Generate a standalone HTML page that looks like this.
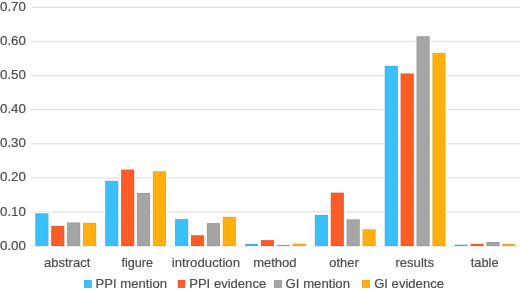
<!DOCTYPE html><html><head><meta charset="utf-8"><style>html,body{margin:0;padding:0;background:#fff;}svg{display:block;will-change:transform;}text{font-family:"Liberation Sans",sans-serif;stroke:#404040;stroke-width:0.15px;}</style></head><body>
<svg width="520" height="291" viewBox="0 0 520 291">
<defs><filter id="bl" x="0" y="0" width="100%" height="100%" filterUnits="userSpaceOnUse"><feConvolveMatrix order="3" kernelMatrix="0.00027 0.01580 0.00027 0.01580 0.93575 0.01580 0.00027 0.01580 0.00027" divisor="1" edgeMode="duplicate" preserveAlpha="false"/></filter></defs>
<g filter="url(#bl)">
<rect width="520" height="291" fill="#fff"/>
<rect x="31" y="6.75" width="489" height="1.3" fill="#E3E3E3"/>
<rect x="31" y="40.84" width="489" height="1.3" fill="#E3E3E3"/>
<rect x="31" y="74.92" width="489" height="1.3" fill="#E3E3E3"/>
<rect x="31" y="109.01" width="489" height="1.3" fill="#E3E3E3"/>
<rect x="31" y="143.09" width="489" height="1.3" fill="#E3E3E3"/>
<rect x="31" y="177.18" width="489" height="1.3" fill="#E3E3E3"/>
<rect x="31" y="211.26" width="489" height="1.3" fill="#E3E3E3"/>
<rect x="31" y="246.00" width="489" height="0.9" fill="#EEEEEE"/>
<rect x="34.30" y="212.30" width="15.10" height="33.70" fill="#fff"/>
<rect x="50.20" y="224.90" width="15.10" height="21.10" fill="#fff"/>
<rect x="66.10" y="221.50" width="15.10" height="24.50" fill="#fff"/>
<rect x="82.00" y="221.90" width="15.10" height="24.10" fill="#fff"/>
<rect x="104.19" y="179.90" width="15.10" height="66.10" fill="#fff"/>
<rect x="120.09" y="168.60" width="15.10" height="77.40" fill="#fff"/>
<rect x="135.99" y="192.00" width="15.10" height="54.00" fill="#fff"/>
<rect x="151.89" y="170.30" width="15.10" height="75.70" fill="#fff"/>
<rect x="174.08" y="218.20" width="15.10" height="27.80" fill="#fff"/>
<rect x="189.98" y="234.30" width="15.10" height="11.70" fill="#fff"/>
<rect x="205.88" y="222.10" width="15.10" height="23.90" fill="#fff"/>
<rect x="221.78" y="215.90" width="15.10" height="30.10" fill="#fff"/>
<rect x="243.97" y="243.00" width="15.10" height="3.00" fill="#fff"/>
<rect x="259.87" y="239.10" width="15.10" height="6.90" fill="#fff"/>
<rect x="275.77" y="243.90" width="15.10" height="2.10" fill="#fff"/>
<rect x="291.67" y="242.70" width="15.10" height="3.30" fill="#fff"/>
<rect x="313.86" y="213.90" width="15.10" height="32.10" fill="#fff"/>
<rect x="329.76" y="191.70" width="15.10" height="54.30" fill="#fff"/>
<rect x="345.66" y="218.40" width="15.10" height="27.60" fill="#fff"/>
<rect x="361.56" y="228.40" width="15.10" height="17.60" fill="#fff"/>
<rect x="383.75" y="64.90" width="15.10" height="181.10" fill="#fff"/>
<rect x="399.65" y="72.50" width="15.10" height="173.50" fill="#fff"/>
<rect x="415.55" y="35.20" width="15.10" height="210.80" fill="#fff"/>
<rect x="431.45" y="51.90" width="15.10" height="194.10" fill="#fff"/>
<rect x="453.64" y="243.70" width="15.10" height="2.30" fill="#fff"/>
<rect x="469.54" y="242.90" width="15.10" height="3.10" fill="#fff"/>
<rect x="485.44" y="241.00" width="15.10" height="5.00" fill="#fff"/>
<rect x="501.34" y="242.90" width="15.10" height="3.10" fill="#fff"/>
<rect x="35.30" y="213.30" width="13.1" height="32.70" fill="#3ABFF8"/>
<rect x="35.70" y="213.70" width="12.30" height="31.90" fill="none" stroke="rgba(0,0,0,0.08)" stroke-width="0.8"/>
<rect x="51.20" y="225.90" width="13.1" height="20.10" fill="#FC5B25"/>
<rect x="51.60" y="226.30" width="12.30" height="19.30" fill="none" stroke="rgba(0,0,0,0.08)" stroke-width="0.8"/>
<rect x="67.10" y="222.50" width="13.1" height="23.50" fill="#A5A5A5"/>
<rect x="67.50" y="222.90" width="12.30" height="22.70" fill="none" stroke="rgba(0,0,0,0.08)" stroke-width="0.8"/>
<rect x="83.00" y="222.90" width="13.1" height="23.10" fill="#FFB010"/>
<rect x="83.40" y="223.30" width="12.30" height="22.30" fill="none" stroke="rgba(0,0,0,0.08)" stroke-width="0.8"/>
<rect x="105.19" y="180.90" width="13.1" height="65.10" fill="#3ABFF8"/>
<rect x="105.59" y="181.30" width="12.30" height="64.30" fill="none" stroke="rgba(0,0,0,0.08)" stroke-width="0.8"/>
<rect x="121.09" y="169.60" width="13.1" height="76.40" fill="#FC5B25"/>
<rect x="121.49" y="170.00" width="12.30" height="75.60" fill="none" stroke="rgba(0,0,0,0.08)" stroke-width="0.8"/>
<rect x="136.99" y="193.00" width="13.1" height="53.00" fill="#A5A5A5"/>
<rect x="137.39" y="193.40" width="12.30" height="52.20" fill="none" stroke="rgba(0,0,0,0.08)" stroke-width="0.8"/>
<rect x="152.89" y="171.30" width="13.1" height="74.70" fill="#FFB010"/>
<rect x="153.29" y="171.70" width="12.30" height="73.90" fill="none" stroke="rgba(0,0,0,0.08)" stroke-width="0.8"/>
<rect x="175.08" y="219.20" width="13.1" height="26.80" fill="#3ABFF8"/>
<rect x="175.48" y="219.60" width="12.30" height="26.00" fill="none" stroke="rgba(0,0,0,0.08)" stroke-width="0.8"/>
<rect x="190.98" y="235.30" width="13.1" height="10.70" fill="#FC5B25"/>
<rect x="191.38" y="235.70" width="12.30" height="9.90" fill="none" stroke="rgba(0,0,0,0.08)" stroke-width="0.8"/>
<rect x="206.88" y="223.10" width="13.1" height="22.90" fill="#A5A5A5"/>
<rect x="207.28" y="223.50" width="12.30" height="22.10" fill="none" stroke="rgba(0,0,0,0.08)" stroke-width="0.8"/>
<rect x="222.78" y="216.90" width="13.1" height="29.10" fill="#FFB010"/>
<rect x="223.18" y="217.30" width="12.30" height="28.30" fill="none" stroke="rgba(0,0,0,0.08)" stroke-width="0.8"/>
<rect x="244.97" y="244.00" width="13.1" height="2.00" fill="#3ABFF8"/>
<rect x="245.37" y="244.40" width="12.30" height="1.20" fill="none" stroke="rgba(0,0,0,0.08)" stroke-width="0.8"/>
<rect x="260.87" y="240.10" width="13.1" height="5.90" fill="#FC5B25"/>
<rect x="261.27" y="240.50" width="12.30" height="5.10" fill="none" stroke="rgba(0,0,0,0.08)" stroke-width="0.8"/>
<rect x="276.77" y="244.90" width="13.1" height="1.10" fill="#A5A5A5"/>
<rect x="276.77" y="244.90" width="13.1" height="1.10" fill="rgba(0,0,0,0.08)"/>
<rect x="292.67" y="243.70" width="13.1" height="2.30" fill="#FFB010"/>
<rect x="293.07" y="244.10" width="12.30" height="1.50" fill="none" stroke="rgba(0,0,0,0.08)" stroke-width="0.8"/>
<rect x="314.86" y="214.90" width="13.1" height="31.10" fill="#3ABFF8"/>
<rect x="315.26" y="215.30" width="12.30" height="30.30" fill="none" stroke="rgba(0,0,0,0.08)" stroke-width="0.8"/>
<rect x="330.76" y="192.70" width="13.1" height="53.30" fill="#FC5B25"/>
<rect x="331.16" y="193.10" width="12.30" height="52.50" fill="none" stroke="rgba(0,0,0,0.08)" stroke-width="0.8"/>
<rect x="346.66" y="219.40" width="13.1" height="26.60" fill="#A5A5A5"/>
<rect x="347.06" y="219.80" width="12.30" height="25.80" fill="none" stroke="rgba(0,0,0,0.08)" stroke-width="0.8"/>
<rect x="362.56" y="229.40" width="13.1" height="16.60" fill="#FFB010"/>
<rect x="362.96" y="229.80" width="12.30" height="15.80" fill="none" stroke="rgba(0,0,0,0.08)" stroke-width="0.8"/>
<rect x="384.75" y="65.90" width="13.1" height="180.10" fill="#3ABFF8"/>
<rect x="385.15" y="66.30" width="12.30" height="179.30" fill="none" stroke="rgba(0,0,0,0.08)" stroke-width="0.8"/>
<rect x="400.65" y="73.50" width="13.1" height="172.50" fill="#FC5B25"/>
<rect x="401.05" y="73.90" width="12.30" height="171.70" fill="none" stroke="rgba(0,0,0,0.08)" stroke-width="0.8"/>
<rect x="416.55" y="36.20" width="13.1" height="209.80" fill="#A5A5A5"/>
<rect x="416.95" y="36.60" width="12.30" height="209.00" fill="none" stroke="rgba(0,0,0,0.08)" stroke-width="0.8"/>
<rect x="432.45" y="52.90" width="13.1" height="193.10" fill="#FFB010"/>
<rect x="432.85" y="53.30" width="12.30" height="192.30" fill="none" stroke="rgba(0,0,0,0.08)" stroke-width="0.8"/>
<rect x="454.64" y="244.70" width="13.1" height="1.30" fill="#3ABFF8"/>
<rect x="454.64" y="244.70" width="13.1" height="1.30" fill="rgba(0,0,0,0.08)"/>
<rect x="470.54" y="243.90" width="13.1" height="2.10" fill="#FC5B25"/>
<rect x="470.94" y="244.30" width="12.30" height="1.30" fill="none" stroke="rgba(0,0,0,0.08)" stroke-width="0.8"/>
<rect x="486.44" y="242.00" width="13.1" height="4.00" fill="#A5A5A5"/>
<rect x="486.84" y="242.40" width="12.30" height="3.20" fill="none" stroke="rgba(0,0,0,0.08)" stroke-width="0.8"/>
<rect x="502.34" y="243.90" width="13.1" height="2.10" fill="#FFB010"/>
<rect x="502.74" y="244.30" width="12.30" height="1.30" fill="none" stroke="rgba(0,0,0,0.08)" stroke-width="0.8"/>
<rect x="84.0" y="280" width="7.9" height="7.9" fill="#3ABFF8"/>
<rect x="84.40" y="280.40" width="7.10" height="7.10" fill="none" stroke="rgba(0,0,0,0.08)" stroke-width="0.8"/>
<rect x="177.8" y="280" width="7.5" height="7.9" fill="#FC5B25"/>
<rect x="178.20" y="280.40" width="6.70" height="7.10" fill="none" stroke="rgba(0,0,0,0.08)" stroke-width="0.8"/>
<rect x="273.9" y="280" width="8.0" height="7.9" fill="#A5A5A5"/>
<rect x="274.30" y="280.40" width="7.20" height="7.10" fill="none" stroke="rgba(0,0,0,0.08)" stroke-width="0.8"/>
<rect x="362.0" y="280" width="8.0" height="7.9" fill="#FFB010"/>
<rect x="362.40" y="280.40" width="7.20" height="7.10" fill="none" stroke="rgba(0,0,0,0.08)" stroke-width="0.8"/>
<text id="y0" x="0.00" y="11.0" font-size="13.6" fill="#404040" textLength="25.96" lengthAdjust="spacingAndGlyphs">0.70</text>
<text id="y1" x="0.00" y="45.09" font-size="13.6" fill="#404040" textLength="25.96" lengthAdjust="spacingAndGlyphs">0.60</text>
<text id="y2" x="0.00" y="79.17" font-size="13.6" fill="#404040" textLength="25.96" lengthAdjust="spacingAndGlyphs">0.50</text>
<text id="y3" x="0.00" y="113.26" font-size="13.6" fill="#404040" textLength="25.96" lengthAdjust="spacingAndGlyphs">0.40</text>
<text id="y4" x="0.00" y="147.34" font-size="13.6" fill="#404040" textLength="25.96" lengthAdjust="spacingAndGlyphs">0.30</text>
<text id="y5" x="0.00" y="181.43" font-size="13.6" fill="#404040" textLength="25.96" lengthAdjust="spacingAndGlyphs">0.20</text>
<text id="y6" x="0.00" y="215.51" font-size="13.6" fill="#404040" textLength="25.96" lengthAdjust="spacingAndGlyphs">0.10</text>
<text id="y7" x="0.00" y="249.6" font-size="13.6" fill="#404040" textLength="25.96" lengthAdjust="spacingAndGlyphs">0.00</text>
<text id="c0" x="44.00" y="267" font-size="13" fill="#404040" textLength="46.25" lengthAdjust="spacingAndGlyphs">abstract</text>
<text id="c1" x="121.39" y="267" font-size="13" fill="#404040" textLength="31.64" lengthAdjust="spacingAndGlyphs">figure</text>
<text id="c2" x="171.80" y="267" font-size="13" fill="#404040" textLength="68.22" lengthAdjust="spacingAndGlyphs">introduction</text>
<text id="c3" x="253.20" y="267" font-size="13" fill="#404040" textLength="43.38" lengthAdjust="spacingAndGlyphs">method</text>
<text id="c4" x="329.30" y="267" font-size="13" fill="#404040" textLength="29.39" lengthAdjust="spacingAndGlyphs">other</text>
<text id="c5" x="395.40" y="267" font-size="13" fill="#404040" textLength="38.60" lengthAdjust="spacingAndGlyphs">results</text>
<text id="c6" x="470.79" y="267" font-size="13" fill="#404040" textLength="27.80" lengthAdjust="spacingAndGlyphs">table</text>
<text id="l0" x="95.59" y="287.8" font-size="13" fill="#404040" textLength="71.44" lengthAdjust="spacingAndGlyphs">PPI mention</text>
<text id="l1" x="189.20" y="287.8" font-size="13" fill="#404040" textLength="77.01" lengthAdjust="spacingAndGlyphs">PPI evidence</text>
<text id="l2" x="285.60" y="287.8" font-size="13" fill="#404040" textLength="64.40" lengthAdjust="spacingAndGlyphs">GI mention</text>
<text id="l3" x="374.20" y="287.8" font-size="13" fill="#404040" textLength="69.78" lengthAdjust="spacingAndGlyphs">GI evidence</text>
</g>
</svg></body></html>
